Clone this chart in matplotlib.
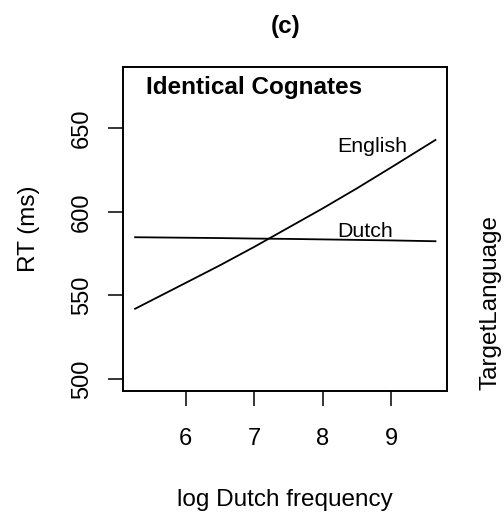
import matplotlib
matplotlib.use("Agg")
import matplotlib.pyplot as plt
import numpy as np

plt.rcParams['font.family'] = ['Liberation Sans', 'DejaVu Sans']

# values
freq = [5.26, 6.0, 6.5, 7.0, 7.5, 8.0, 8.5, 9.0, 9.65]
rt_english = [542, 557.5, 568, 579, 590.5, 602, 614, 626.5, 643]
rt_dutch = [584.8, 584.5, 584.3, 584.0, 583.8, 583.5, 583.2, 582.9, 582.4]
xticks = [6, 7, 8, 9]
yticks = [500, 550, 600, 650]

fig = plt.figure(figsize=(5.04, 5.16), dpi=100)
ax = fig.add_axes([0.244, 0.2422, 0.6435, 0.6285])

ax.plot(freq, rt_english, color='black', lw=1.3)
ax.plot(freq, rt_dutch, color='black', lw=1.3)

ax.set_xlim(5.083, 9.823)
ax.set_ylim(492.8, 686.8)
ax.set_xticks(xticks)
ax.set_yticks(yticks)
ax.set_yticklabels([str(v) for v in yticks], rotation=90, va='center')
ax.tick_params(direction='out', length=10.8, width=1.1, labelsize=17)
ax.tick_params(axis='x', pad=16)
ax.tick_params(axis='y', pad=11)
for s in ax.spines.values():
    s.set_linewidth(1.4)

ax.text(8.21, 636.0, "English", fontsize=15.4)
ax.text(8.21, 585.2, "Dutch", fontsize=15.4)
ax.text(0.07, 0.916, "Identical Cognates", transform=ax.transAxes,
        fontsize=17.5, fontweight='bold')

ax.set_xlabel("log Dutch frequency", fontsize=17.5, labelpad=28)
ax.set_ylabel("RT (ms)", fontsize=17.5, labelpad=22)
ax.set_title("(c)", fontsize=17.5, fontweight='bold', pad=24)

fig.text(491 / 504, 1 - 302.5 / 516, "TargetLanguage", rotation=90,
         ha='center', va='center', fontsize=17.5)

fig.savefig("out.png", dpi=100)
